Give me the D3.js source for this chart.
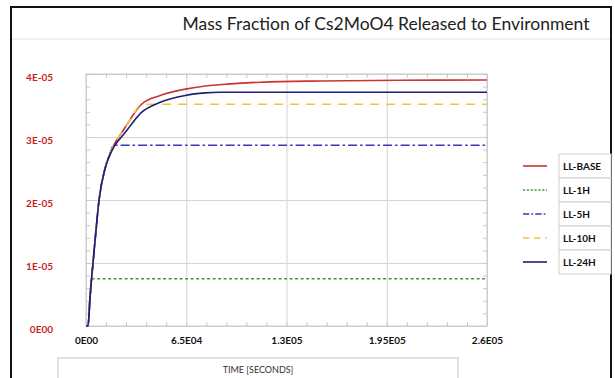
<!DOCTYPE html>
<html>
<head>
<meta charset="utf-8">
<script src="https://cdn.jsdelivr.net/npm/d3@7"></script>
<style>
  body { margin: 0; background: #fff; }
  svg { display: block; font-family: Lato, "Open Sans", sans-serif; }
  .grid line { stroke: #d4d4d4; }
  .grid path { display: none; }
  .minor line { stroke: #c8c8c8; }
  .minor path { display: none; }
  .lab path, .lab line { display: none; }
</style>
</head>
<body>
<svg id="chart" width="615" height="378"></svg>
<script>
// time grid in seconds, values in units of 1E-05
const timeSec = [0, 1300, 2600, 3600, 4550, 5850, 8450, 12350, 15600, 18000, 24000, 26650,
  30000, 36000, 48100, 64350, 77350, 86400, 91650, 113100, 152100, 204100, 260000];
const llBase = [0, 0, 0.45, 0.75, 1.0, 1.35, 2.0, 2.5, 2.74, 2.87, 3.1, 3.2,
  3.33, 3.52, 3.66, 3.76, 3.81, 3.83, 3.84, 3.87, 3.89, 3.9, 3.905];
const ll1h = [0, 0, 0.45, 0.75, 0.75, 0.75, 0.75, 0.75, 0.75, 0.75, 0.75, 0.75,
  0.75, 0.75, 0.75, 0.75, 0.75, 0.75, 0.75, 0.75, 0.75, 0.75, 0.75];
const ll5h = [0, 0, 0.45, 0.75, 1.0, 1.35, 2.0, 2.5, 2.74, 2.87, 2.87, 2.87,
  2.87, 2.87, 2.87, 2.87, 2.87, 2.87, 2.87, 2.87, 2.87, 2.87, 2.87];
const ll10h = [0, 0, 0.45, 0.75, 1.0, 1.35, 2.0, 2.5, 2.74, 2.87, 3.1, 3.2,
  3.33, 3.52, 3.52, 3.52, 3.52, 3.52, 3.52, 3.52, 3.52, 3.52, 3.52];
const ll24h = [0, 0, 0.45, 0.75, 1.0, 1.35, 2.0, 2.5, 2.72, 2.84, 3.03, 3.11,
  3.22, 3.39, 3.55, 3.66, 3.70, 3.71, 3.71, 3.71, 3.71, 3.71, 3.71];

const seriesNames = ["LL-BASE", "LL-1H", "LL-5H", "LL-10H", "LL-24H"];
const seriesValues = [llBase, ll1h, ll5h, ll10h, ll24h];
const seriesColors = ["#cc3333", "#33a033", "#3838b8", "#ebc445", "#1e1e78"];
const seriesDash = [null, "3,2.5", "9,3,2.5,3", "9,7", null];

const xTicks = [0, 65000, 130000, 195000, 260000];
const xTickLabels = ["0E00", "6.5E04", "1.3E05", "1.95E05", "2.6E05"];
const yTicks = [0, 1, 2, 3, 4];
const yTickLabels = ["0E00", "1E-05", "2E-05", "3E-05", "4E-05"];

const svg = d3.select("#chart");
const plotLeft = 86, plotRight = 487, plotTop = 74, plotBottom = 326;

const x = d3.scaleLinear().domain([0, 260000]).range([plotLeft, plotRight]);
const y = d3.scaleLinear().domain([0, 4]).range([plotBottom, plotTop]);

// outer frame + title
svg.append("rect").attr("x", 11).attr("y", 7).attr("width", 600).attr("height", 380)
  .attr("fill", "none").attr("stroke", "#111").attr("stroke-width", 2);
svg.append("line").attr("x1", 12).attr("x2", 610).attr("y1", 39).attr("y2", 39)
  .attr("stroke", "#e2e2e2");
svg.append("text").attr("x", 386).attr("y", 30).attr("text-anchor", "middle")
  .attr("font-size", 17.5).attr("fill", "#222")
  .text("Mass Fraction of Cs2MoO4 Released to Environment");

// gridlines
svg.append("g").attr("class", "grid").attr("transform", `translate(0,${plotBottom})`)
  .call(d3.axisBottom(x).tickValues(xTicks).tickSize(-(plotBottom - plotTop)).tickFormat(""));
svg.append("g").attr("class", "grid").attr("transform", `translate(${plotLeft},0)`)
  .call(d3.axisLeft(y).tickValues(yTicks).tickSize(-(plotRight - plotLeft)).tickFormat(""));

// minor ticks on all four sides, pointing inward
const xMinor = d3.range(21).map(i => i * 13000);
const yMinor = d3.range(21).map(i => i * 0.2);
svg.append("g").attr("class", "minor").attr("transform", `translate(0,${plotBottom})`)
  .call(d3.axisBottom(x).tickValues(xMinor).tickSize(-4).tickFormat(""));
svg.append("g").attr("class", "minor").attr("transform", `translate(0,${plotTop})`)
  .call(d3.axisTop(x).tickValues(xMinor).tickSize(-4).tickFormat(""));
svg.append("g").attr("class", "minor").attr("transform", `translate(${plotLeft},0)`)
  .call(d3.axisLeft(y).tickValues(yMinor).tickSize(-4).tickFormat(""));
svg.append("g").attr("class", "minor").attr("transform", `translate(${plotRight},0)`)
  .call(d3.axisRight(y).tickValues(yMinor).tickSize(-4).tickFormat(""));

svg.append("rect").attr("x", plotLeft).attr("y", plotTop)
  .attr("width", plotRight - plotLeft).attr("height", plotBottom - plotTop)
  .attr("fill", "none").attr("stroke", "#c8c8c8");

// tick labels
const yAx = svg.append("g").attr("class", "lab").attr("transform", `translate(${plotLeft},0)`)
  .call(d3.axisLeft(y).tickValues(yTicks).tickSize(0).tickPadding(33)
    .tickFormat((d, i) => yTickLabels[i]));
yAx.selectAll("text").attr("font-family", "Lato, sans-serif").attr("font-size", 10)
  .attr("font-weight", "bold").attr("fill", "#c81e1e").attr("dy", "0.62em");

const xAx = svg.append("g").attr("class", "lab").attr("transform", `translate(0,${plotBottom})`)
  .call(d3.axisBottom(x).tickValues(xTicks).tickSize(0).tickPadding(11)
    .tickFormat((d, i) => xTickLabels[i]));
xAx.selectAll("text").attr("font-family", "Lato, sans-serif").attr("font-size", 10)
  .attr("font-weight", "bold").attr("fill", "#111");

// axis title box
svg.append("rect").attr("x", 58).attr("y", 358).attr("width", 400).attr("height", 40)
  .attr("fill", "none").attr("stroke", "#c4c4c4");
svg.append("text").attr("x", 258).attr("y", 373).attr("text-anchor", "middle")
  .attr("font-size", 9).attr("fill", "#333").text("TIME [SECONDS]");

// series lines
const line = d3.line()
  .x((d, i) => x(timeSec[i]))
  .y(d => y(d))
  .curve(d3.curveMonotoneX);

svg.selectAll(".series")
  .data(seriesValues)
  .join("path")
  .attr("class", "series")
  .attr("d", line)
  .attr("fill", "none")
  .attr("stroke", (d, i) => seriesColors[i])
  .attr("stroke-width", 1.6)
  .attr("stroke-dasharray", (d, i) => seriesDash[i]);

// legend
const legend = svg.append("g").selectAll("g")
  .data(seriesNames)
  .join("g")
  .attr("transform", (d, i) => `translate(0,${154 + i * 24})`);
legend.append("rect").attr("x", 559).attr("y", 0).attr("width", 52).attr("height", 24)
  .attr("fill", "#fff").attr("stroke", "#cfcfcf");
legend.append("line").attr("x1", 523).attr("x2", 547).attr("y1", 12).attr("y2", 12)
  .attr("stroke", (d, i) => seriesColors[i]).attr("stroke-width", 1.6)
  .attr("stroke-dasharray", (d, i) => seriesDash[i] ? seriesDash[i].split(",").map(v => v * 0.7).join(",") : null);
legend.append("text").attr("x", 563).attr("y", 16).attr("font-size", 10)
  .attr("font-weight", "bold").attr("fill", "#111").text(d => d);
</script>
</body>
</html>
